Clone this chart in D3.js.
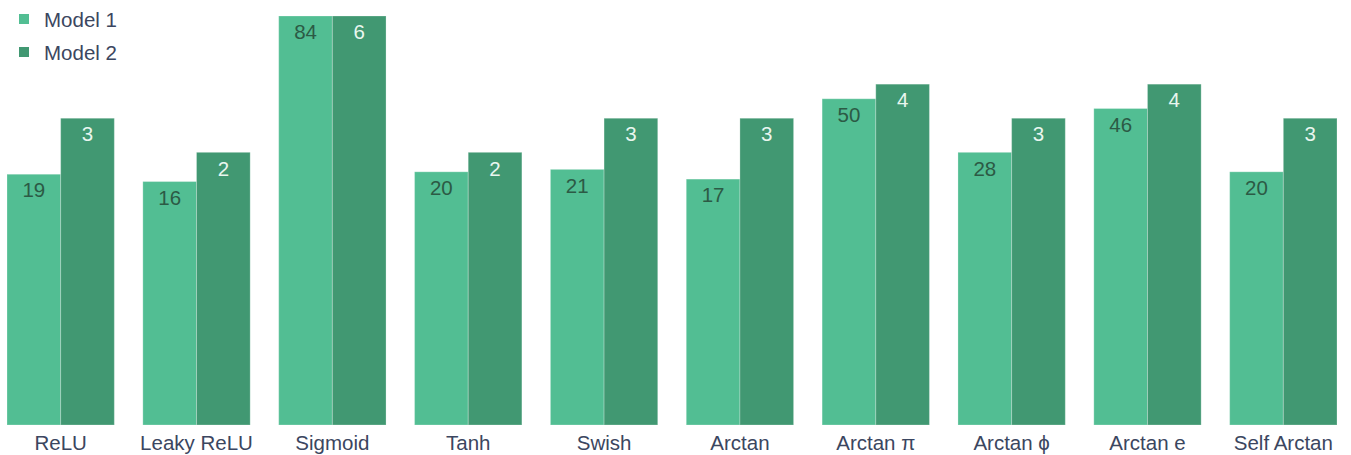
<!DOCTYPE html>
<html>
<head>
<meta charset="utf-8">
<script src="https://cdn.jsdelivr.net/npm/d3@7"></script>
<style>
  html, body { margin: 0; padding: 0; background: #ffffff; }
  svg { display: block; font-family: "Liberation Sans", Arial, sans-serif; }
</style>
</head>
<body>
<svg id="chart" width="1351" height="455"></svg>
<script>
// Activation functions compared across two models
const categories = ["ReLU", "Leaky ReLU", "Sigmoid", "Tanh", "Swish", "Arctan", "Arctan π", "Arctan ϕ", "Arctan e", "Self Arctan"];
const model1 = [19, 16, 84, 20, 21, 17, 50, 28, 46, 20];
const model2 = [3, 2, 6, 2, 3, 3, 4, 3, 4, 3];
const seriesNames = ["Model 1", "Model 2"];

const plotTop = 16, baseline = 425;
const fontSize = 20.5;
const labelColor = "#3b4660";

const svg = d3.select("#chart");

const x = d3.scaleBand().domain(categories).range([7, 1337]).paddingInner(0.21).paddingOuter(0);
const xs = d3.scaleBand().domain(seriesNames).range([0, x.bandwidth()]).padding(0);

// each series on its own symmetric scale
const max1 = d3.max(model1), max2 = d3.max(model2);
const y1 = d3.scaleLinear().domain([-max1, max1]).range([baseline, plotTop]);
const y2 = d3.scaleLinear().domain([-max2, max2]).range([baseline, plotTop]);

const series = [
  { name: "Model 1", values: model1, y: y1, fill: "#52be93", text: "#2c5a45" },
  { name: "Model 2", values: model2, y: y2, fill: "#419872", text: "#e9f6ef" }
];

const groups = svg.append("g");
series.forEach(s => {
  const g = groups.append("g");
  g.selectAll("rect").data(categories).join("rect")
    .attr("x", d => x(d) + xs(s.name))
    .attr("y", (d, i) => s.y(s.values[i]))
    .attr("width", xs.bandwidth())
    .attr("height", (d, i) => baseline - s.y(s.values[i]))
    .attr("fill", s.fill)
    .attr("stroke", "rgba(255,255,255,0.25)")
    .attr("stroke-width", 1);
  g.selectAll("text").data(categories).join("text")
    .attr("x", d => x(d) + xs(s.name) + xs.bandwidth() / 2)
    .attr("y", (d, i) => s.y(s.values[i]) + 16)
    .attr("dy", "0.35em")
    .attr("text-anchor", "middle")
    .attr("font-size", fontSize)
    .attr("fill", s.text)
    .text((d, i) => s.values[i]);
});

// category axis
const xAxis = d3.axisBottom(x).tickSize(0).tickPadding(10);
const ax = svg.append("g").attr("transform", `translate(0,${baseline})`).call(xAxis);
ax.select(".domain").remove();
ax.selectAll("text").attr("font-size", fontSize).attr("fill", labelColor)
  .attr("font-family", "Liberation Sans, Arial, sans-serif");

// legend
const legend = svg.append("g").attr("transform", "translate(19,14)");
series.forEach((s, i) => {
  const row = legend.append("g").attr("transform", `translate(0,${i * 33})`);
  row.append("rect").attr("width", 10).attr("height", 10).attr("fill", s.fill);
  row.append("text").attr("x", 25).attr("y", 6).attr("dy", "0.35em")
    .attr("font-size", fontSize).attr("fill", labelColor).text(s.name);
});
</script>
</body>
</html>
